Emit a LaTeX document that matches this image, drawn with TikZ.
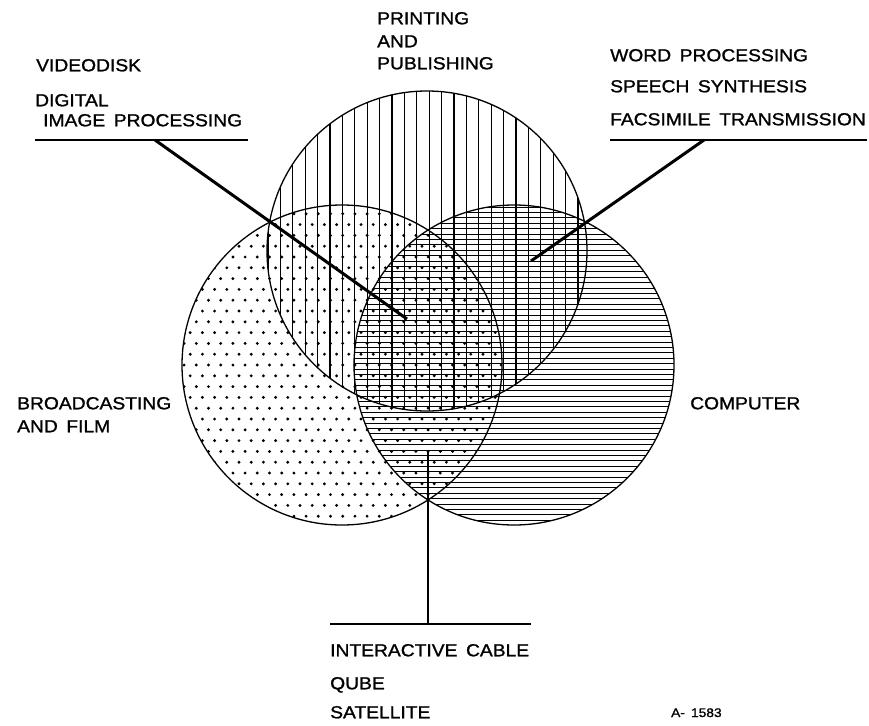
\documentclass[tikz,border=0pt]{standalone}
\usepackage{fontspec}
\setmainfont{Liberation Sans}[FakeStretch=1.1, WordSpace=1.6, FakeBold=1.2]
\begin{document}
\begin{tikzpicture}[x=1pt,y=-1pt,
  lbl/.style={anchor=base west, inner sep=0pt, font=\fontsize{17.5}{20}\selectfont},
  tag/.style={anchor=base west, inner sep=0pt, font=\fontsize{12.5}{14}\selectfont},
  ring/.style={draw=black, line width=1.3pt},
  hatch/.style={draw=black, line width=1.1pt},
  leader/.style={draw=black, line width=3pt},
  rule/.style={draw=black, line width=1.3pt}]
\useasboundingbox (0,0) rectangle (869,725);

% circle centres
\coordinate (cP) at (427,251);
\coordinate (cB) at (342,365);
\coordinate (cC) at (514,365);

% printing and publishing: vertical hatching
\begin{scope}
  \clip (cP) circle[radius=160pt];
  \foreach \i in {0,...,26} {
    \pgfmathsetmacro\xx{268+\i*12.4}
    \draw[hatch] (\xx,85) -- (\xx,415);
  }
\end{scope}

% computer: horizontal hatching
\begin{scope}
  \clip (cC) circle[radius=160pt];
  \foreach \j in {0,...,60} {
    \pgfmathsetmacro\yy{207+\j*5.4}
    \draw[hatch, line width=0.95pt] (350,\yy) -- (680,\yy);
  }
\end{scope}

% broadcasting and film: dot screen
\begin{scope}
  \clip (cB) circle[radius=160pt];
  \foreach \j in {0,...,30} {
    \foreach \i in {0,...,27} {
      \pgfmathsetmacro\xx{178+\i*12.2+mod(\j,2)*6.1}
      \pgfmathsetmacro\yy{203+\j*10.8}
      \fill (\xx,\yy) circle[radius=1.6pt];
    }
  }
\end{scope}

% outlines
\draw[ring] (cP) circle[radius=160pt];
\draw[ring] (cB) circle[radius=160pt];
\draw[ring] (cC) circle[radius=160pt];

% labels
\node[lbl] (pr1) at (377,24.3) {PRINTING};
\node[lbl] (pr2) at (377,47.3) {AND};
\node[lbl] (pr3) at (377,69.3) {PUBLISHING};

\node[lbl] (vd1) at (36,71.3) {VIDEODISK};
\node[lbl] (vd2) at (35,106.3) {DIGITAL};
\node[lbl] (vd3) at (43,126.3) {IMAGE PROCESSING};

\node[lbl] (wp1) at (610,61.3) {WORD PROCESSING};
\node[lbl] (wp2) at (610,92.3) {SPEECH SYNTHESIS};
\node[lbl] (wp3) at (610,125.3) {FACSIMILE TRANSMISSION};

\node[lbl] (bf1) at (17,409.3) {BROADCASTING};
\node[lbl] (bf2) at (17,432.3) {AND FILM};

\node[lbl] (cm1) at (690,409.3) {COMPUTER};

\node[lbl] (ic1) at (330,656.3) {INTERACTIVE CABLE};
\node[lbl] (ic2) at (330,689.3) {QUBE};
\node[lbl] (ic3) at (330,718.3) {SATELLITE};

\node[tag] (fig) at (671,717) {A- 1583};

% underlines and leaders
\coordinate (vdL) at (35,140);
\coordinate (vdR) at (248,140);
\coordinate (vdK) at (155,140);
\coordinate (vdT) at (407,319);

\coordinate (wpL) at (610,140);
\coordinate (wpR) at (867,140);
\coordinate (wpK) at (704,140);
\coordinate (wpT) at (531,261);

\coordinate (icL) at (330,624);
\coordinate (icR) at (531,624);
\coordinate (icK) at (428,624);
\coordinate (icT) at (428,450);

\draw[rule] (vdL) -- (vdR);
\draw[rule] (wpL) -- (wpR);
\draw[rule] (icL) -- (icR);
\draw[leader] (vdK) -- (vdT);
\draw[leader] (wpK) -- (wpT);
\draw[draw=black, line width=2pt] (icK) -- (icT);
\end{tikzpicture}
\end{document}
